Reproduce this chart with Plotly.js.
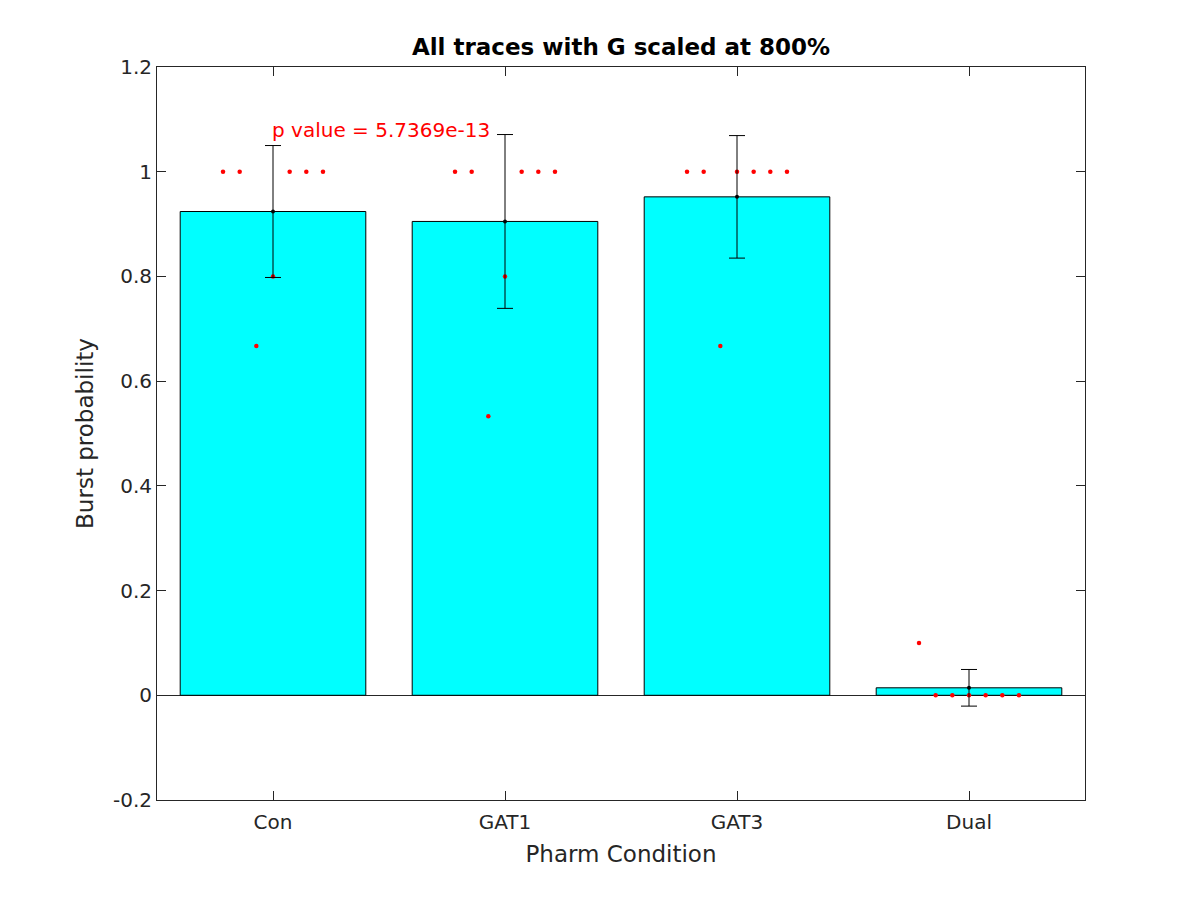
<!DOCTYPE html>
<html>
<head>
<meta charset="utf-8">
<script src="https://cdn.plot.ly/plotly-3.0.1.min.js"></script>
<style>html,body{margin:0;padding:0;background:#fff;}#chart{width:1200px;height:900px;}</style>
</head>
<body>
<div id="chart"></div>
<script>
// Data
const categories = ["Con", "GAT1", "GAT3", "Dual"];
const barMeans = [0.924, 0.905, 0.952, 0.0143];
const barErrors = [0.126, 0.166, 0.117, 0.035];
const conPoints  = [1, 1, 0.667, 0.8, 1, 1, 1];
const gat1Points = [1, 1, 0.533, 0.8, 1, 1, 1];
const gat3Points = [1, 1, 0.667, 1, 1, 1, 1];
const dualPoints = [0.1, 0, 0, 0, 0, 0, 0];
const yTicks = [-0.2, 0, 0.2, 0.4, 0.6, 0.8, 1, 1.2];
const yTickText = ["-0.2", "0", "0.2", "0.4", "0.6", "0.8", "1", "1.2"];
const pValueText = "p value = 5.7369e-13";
const pValueY = 1.079;

const groups = [conPoints, gat1Points, gat3Points, dualPoints];
const catPos = categories.map((c, i) => i + 1);
const spread = 0.0718;

const font = "DejaVu Sans, Liberation Sans, sans-serif";
const ink = "#262626";

const traces = [];
traces.push({
  type: "bar",
  x: catPos,
  y: barMeans,
  width: 0.8,
  marker: {color: "#00ffff", line: {color: "#000000", width: 1}},
  hoverinfo: "skip",
  showlegend: false
});

// individual points
const px = [], py = [];
groups.forEach((g, gi) => {
  const n = g.length;
  g.forEach((v, k) => {
    px.push(catPos[gi] + (k - (n - 1) / 2) * spread);
    py.push(v);
  });
});
traces.push({
  type: "scatter",
  mode: "markers",
  x: px,
  y: py,
  marker: {color: "#ff0000", size: 4.5},
  showlegend: false,
  hoverinfo: "skip"
});

// means with error bars
traces.push({
  type: "scatter",
  mode: "markers",
  x: catPos,
  y: barMeans,
  marker: {color: "#000000", size: 4},
  error_y: {type: "data", array: barErrors, visible: true, color: "#000000", thickness: 1, width: 8},
  showlegend: false,
  hoverinfo: "skip"
});

const layout = {
  width: 1200,
  height: 900,
  paper_bgcolor: "#ffffff",
  plot_bgcolor: "#ffffff",
  margin: {l: 157, r: 115, t: 67, b: 100, pad: 0},
  font: {family: font, color: ink, size: 20},
  title: {
    text: "<b>All traces with G scaled at 800%</b>",
    font: {family: font, size: 23, color: "#000000"},
    x: 0.5, xref: "paper", xanchor: "center",
    y: 1, yref: "paper", yanchor: "bottom", pad: {b: 12}
  },
  xaxis: {
    range: [0.5, 4.5],
    tickvals: catPos,
    ticktext: categories,
    ticks: "inside",
    ticklen: 9,
    tickwidth: 1,
    tickcolor: ink,
    mirror: "ticks",
    showline: true,
    linecolor: ink,
    linewidth: 1,
    showgrid: false,
    zeroline: false,
    ticklabelstandoff: 4,
    tickfont: {family: font, size: 20, color: ink},
    title: {text: "Pharm Condition", font: {family: font, size: 23, color: ink}, standoff: 12}
  },
  yaxis: {
    range: [-0.2, 1.2],
    tickvals: yTicks,
    ticktext: yTickText,
    ticks: "inside",
    ticklen: 9,
    tickwidth: 1,
    tickcolor: ink,
    mirror: "ticks",
    showline: true,
    linecolor: ink,
    linewidth: 1,
    showgrid: false,
    zeroline: true,
    zerolinecolor: ink,
    zerolinewidth: 1,
    tickfont: {family: font, size: 20, color: ink},
    title: {text: "Burst probability", font: {family: font, size: 23, color: ink}, standoff: 12}
  },
  annotations: [{
    x: catPos[0], y: pValueY, xref: "x", yref: "y",
    text: pValueText, showarrow: false,
    xanchor: "left", yanchor: "middle", borderpad: 0, xshift: -2,
    font: {family: font, size: 20, color: "#ff0000"}
  }],
  showlegend: false
};

Plotly.newPlot("chart", traces, layout, {displayModeBar: false, staticPlot: true});
</script>
</body>
</html>
